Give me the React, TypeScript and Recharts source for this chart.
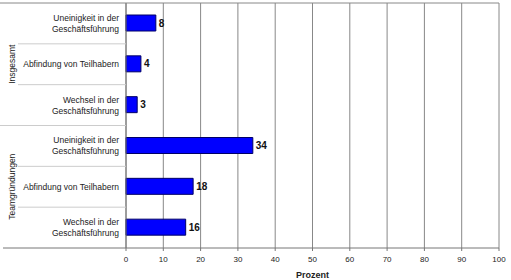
import React from 'react';
import { BarChart, Bar, XAxis, YAxis, CartesianGrid, LabelList } from 'recharts';

const groups = ['Insgesamt', 'Teamgründungen'];
const categoryLines: string[][] = [
  ['Uneinigkeit in der', 'Geschäftsführung'],
  ['Abfindung von Teilhabern'],
  ['Wechsel in der', 'Geschäftsführung'],
];
const insgesamtValues = [8, 4, 3];
const teamValues = [34, 18, 16];
const xTicks = [0, 10, 20, 30, 40, 50, 60, 70, 80, 90, 100];
const xTitle = 'Prozent';

const W = 511;
const H = 280;
const MARGIN = { top: 3, right: 12, left: 0, bottom: 0 };
const Y_W = 126;
const X_H = 32;
const PLOT_TOP = MARGIN.top;
const PLOT_BOTTOM = H - MARGIN.bottom - X_H;
const PLOT_RIGHT = W - MARGIN.right;
const FONT = 'Liberation Sans, Arial, sans-serif';

const groupValues = [insgesamtValues, teamValues];
const data = groups.flatMap((g, gi) =>
  categoryLines.map((lines, ci) => ({
    key: `${g}|${ci}`,
    group: g,
    gi,
    ci,
    lines,
    value: groupValues[gi][ci],
  }))
);
const BAND = (PLOT_BOTTOM - PLOT_TOP) / data.length;

const YTick = (props: any) => {
  const { y, payload } = props;
  const idx = payload.index as number;
  const row = data[idx];
  const lines = row.lines;
  const lh = 11;
  const startY = y - ((lines.length - 1) * lh) / 2;
  const top = y - BAND / 2;
  const bottom = y + BAND / 2;
  const els: any[] = [];
  lines.forEach((l: string, i: number) => {
    els.push(
      <text key={'t' + i} x={Y_W - 7} y={startY + i * lh} dy="0.35em" textAnchor="end" fontSize={8.5} fill="#222" fontFamily={FONT}>
        {l}
      </text>
    );
  });
  if (row.ci === 0) {
    els.push(
      <line key="gs" x1={0} x2={idx === 0 ? PLOT_RIGHT : Y_W} y1={top} y2={top} stroke={idx === 0 ? '#888' : '#ccc'} strokeWidth={1} />
    );
    const cy = y + BAND;
    els.push(
      <text key="g" x={12} y={cy} transform={`rotate(-90 12 ${cy})`} textAnchor="middle" dy="0.35em" fontSize={8.5} fill="#222" fontFamily={FONT}>
        {row.group}
      </text>
    );
  } else {
    els.push(<line key="s" x1={18} x2={Y_W} y1={top} y2={top} stroke="#ccc" strokeWidth={1} />);
  }
  if (idx === data.length - 1) {
    els.push(<line key="b" x1={3} x2={Y_W} y1={bottom} y2={bottom} stroke="#777" strokeWidth={1} />);
  }
  return <g>{els}</g>;
};

export default function App() {
  return (
    <div style={{ position: 'absolute', left: 0, top: 0, width: W, height: H, background: '#fff' }}>
      <BarChart width={W} height={H} data={data} layout="vertical" margin={MARGIN} barSize={16}>
        <CartesianGrid horizontal={false} vertical={true} stroke="#888" />
        <XAxis
          type="number"
          domain={[0, 100]}
          ticks={xTicks}
          interval={0}
          height={X_H}
          axisLine={{ stroke: '#777' }}
          tickLine={{ stroke: '#777' }}
          tickSize={3}
          tickMargin={5}
          tick={{ fontSize: 8, fill: '#222', fontFamily: FONT }}
          label={{ value: xTitle, position: 'insideBottom', offset: 2, fontSize: 9, fontWeight: 'bold', fill: '#222', fontFamily: FONT }}
        />
        <YAxis
          type="category"
          dataKey="key"
          width={Y_W}
          axisLine={{ stroke: '#777' }}
          tickLine={false}
          tick={<YTick />}
          interval={0}
        />
        <Bar dataKey="value" fill="#0000FF" stroke="#000066" strokeWidth={1} isAnimationActive={false}>
          <LabelList dataKey="value" position="right" offset={3} fontSize={10} fontWeight="bold" fill="#111" fontFamily={FONT} />
        </Bar>
      </BarChart>
    </div>
  );
}
